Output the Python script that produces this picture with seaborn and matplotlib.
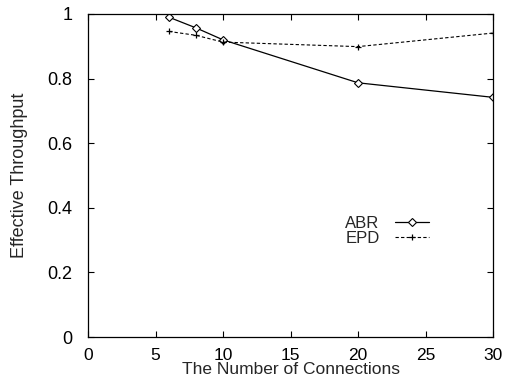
import matplotlib
matplotlib.use("Agg")
import matplotlib.pyplot as plt
import seaborn as sns
import pandas as pd

connections = [6, 8, 10, 20, 30]
abr = [0.990, 0.957, 0.920, 0.787, 0.742]
epd = [0.946, 0.934, 0.913, 0.899, 0.941]

x_ticks = [0, 5, 10, 15, 20, 25, 30]
y_ticks = [0, 0.2, 0.4, 0.6, 0.8, 1]

sns.set_theme(style="white")
plt.rcParams['font.family'] = ['Liberation Sans', 'DejaVu Sans']

fig = plt.figure(figsize=(5.07, 3.85), dpi=100)
ax = fig.add_axes([88/507, 1-337/385, (493-88)/507, (337-14)/385])

df_abr = pd.DataFrame({"x": connections, "y": abr})
df_epd = pd.DataFrame({"x": connections, "y": epd})

sns.lineplot(data=df_abr, x="x", y="y", ax=ax, color="black", linewidth=0.9,
             marker="D", markersize=3.8, markerfacecolor="white",
             markeredgecolor="black", markeredgewidth=0.8, label="ABR")
sns.lineplot(data=df_epd, x="x", y="y", ax=ax, color="black", linewidth=0.8,
             linestyle=(0, (3, 2)), marker="+", markersize=5,
             markeredgecolor="black", markeredgewidth=0.9, label="EPD")

ax.set_xlim(0, 30)
ax.set_ylim(0, 1)
ax.set_xticks(x_ticks)
ax.set_xticklabels([str(t) for t in x_ticks])
ax.set_yticks(y_ticks)
ax.set_yticklabels(["0", "0.2", "0.4", "0.6", "0.8", "1"])
ax.tick_params(direction="in", length=4, width=0.8, labelsize=13, colors="black",
               top=True, right=True, bottom=True, left=True)
ax.tick_params(axis="x", pad=8, labelsize=12.5)
ax.tick_params(axis="y", pad=11)
for s in ax.spines.values():
    s.set_color("black")
    s.set_linewidth(0.9)
ax.set_xlabel("The Number of Connections", fontsize=12.5, labelpad=-0.5)
ax.set_ylabel("Effective Throughput", fontsize=13, labelpad=14)

leg = ax.legend(loc="upper left", bbox_to_anchor=(0.635, 0.375), frameon=False,
                markerfirst=False, fontsize=12, handlelength=2.0,
                handletextpad=0.95, labelspacing=0.0, borderpad=0,
                borderaxespad=0)

fig.savefig("out.png", dpi=100)
